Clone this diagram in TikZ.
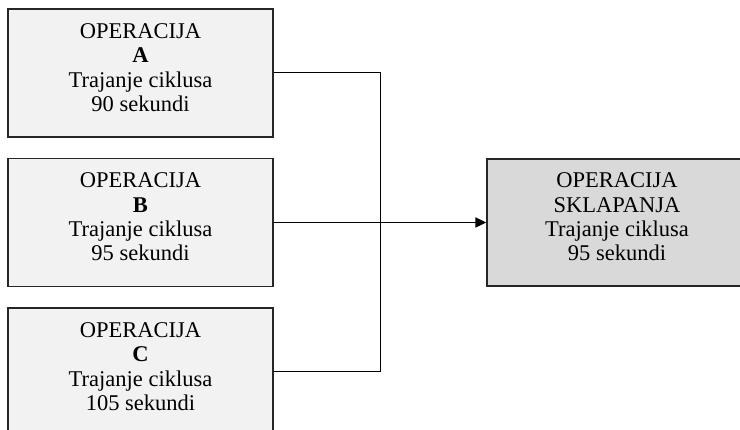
\documentclass[tikz,border=0pt]{standalone}
\usepackage{fontspec}
\setmainfont{Liberation Serif}
\usetikzlibrary{arrows.meta}

\begin{document}
\begin{tikzpicture}[x=1pt,y=-1pt,
        opbox/.style={draw=black!85,line width=1.3pt,fill=black!5,minimum width=265pt,minimum height=128pt,align=center,text depth=11pt,font=\fontsize{22.5}{24.3}\selectfont},
        sklbox/.style={opbox,fill=black!15,minimum width=260pt,minimum height=127pt}]
        \useasboundingbox (0,0) rectangle (740,430);
        \clip (0,0) rectangle (740,430);
        \node[opbox] (opA) at (140.5,73) {OPERACIJA\\\textbf{A}\\Trajanje ciklusa\\90 sekundi};
        \node[opbox] (opB) at (140.5,222.5) {OPERACIJA\\\textbf{B}\\Trajanje ciklusa\\95 sekundi};
        \node[opbox] (opC) at (140.5,372) {OPERACIJA\\\textbf{C}\\Trajanje ciklusa\\105 sekundi};
        \node[sklbox] (opS) at (617,222.5) {OPERACIJA\\SKLAPANJA\\Trajanje ciklusa\\95 sekundi};
        \coordinate (spoj) at (380,222.5);
        \draw[line width=1pt] (opA.east) -| (spoj);
        \draw[line width=1pt] (opC.east) -| (spoj);
        \draw[line width=1pt] (opB.east) -- (spoj);
        \draw[line width=1.8pt,-{Triangle[length=11pt,width=10pt]}] (spoj) -- (opS.west);
\end{tikzpicture}
\end{document}
